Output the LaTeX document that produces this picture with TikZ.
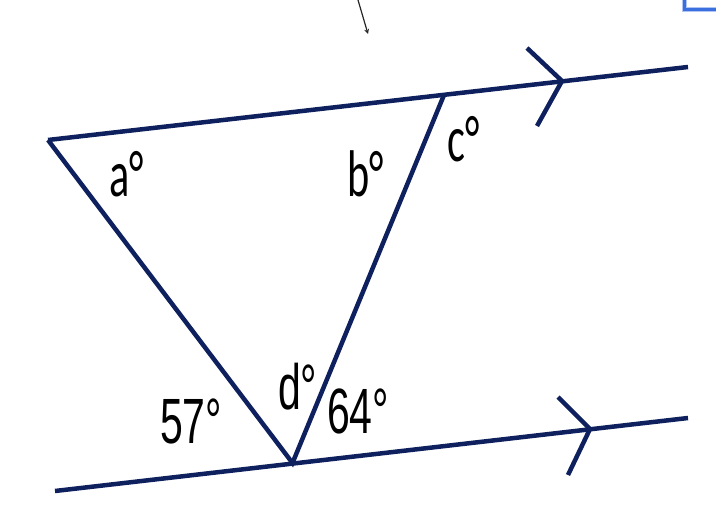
\documentclass[tikz,border=0pt]{standalone}
\usepackage{fontspec}
\setmainfont{Liberation Sans}
\newfontfamily\calfont{Carlito}
\usepackage{xcolor}
\usepackage{tikz}
\usetikzlibrary{arrows}

\definecolor{lineblue}{RGB}{14,32,94}
\definecolor{frameblue}{RGB}{59,111,224}
\newcommand{\nrw}[1]{\scalebox{0.64}[1]{#1}}

\begin{document}
\begin{tikzpicture}[
    x=1pt, y=-1pt,
    >=stealth,
    parline/.style={draw=lineblue, line width=4.5pt},
    chevron/.style={draw=lineblue, line width=4.5pt, line join=miter},
    angtop/.style={anchor=base west, inner sep=0pt, font=\calfont\fontsize{66}{66}\selectfont},
    angbot/.style={anchor=base west, inner sep=0pt, font=\fontsize{64}{64}\selectfont}
]
\useasboundingbox (0,0) rectangle (716,510);

% === Vertices ===
\coordinate (apex) at (48,140);
\coordinate (topv) at (444,95);
\coordinate (botv) at (292.5,463);
\coordinate (topend) at (688,67);
\coordinate (botstart) at (55,491);
\coordinate (botend) at (688,418);

% Parallel lines
\draw[parline] (apex) -- (topend);
\draw[parline] (botstart) -- (botend);

% Triangle sides
\draw[parline, line join=miter] (topv) -- (botv) -- (apex);

% Parallel marks
\draw[chevron] (527,48) -- (562,81) -- (537,126);
\draw[chevron] (558,397) -- (590,429) -- (568,475);

% Angle labels
\node[angtop] (a) at (109,197) {\nrw{a°}};
\node[angtop] (b) at (347,197) {\nrw{b°}};
\node[angtop] (c) at (447,162) {\nrw{c°}};
\node[angbot] (d) at (278,410) {\nrw{d°}};
\node[angbot] (s57) at (160,444) {\nrw{57°}};
\node[angbot] (s64) at (327,434) {\nrw{64°}};

% Screen leftovers
\draw[->, gray!30!black, line width=1.2pt] (358,0) -- (368,34);
\draw[frameblue!40, line width=5pt] (684,-2) -- (684,10) -- (718,10);
\draw[frameblue, line width=3pt] (684,-2) -- (684,10) -- (718,10);

\end{tikzpicture}
\end{document}
